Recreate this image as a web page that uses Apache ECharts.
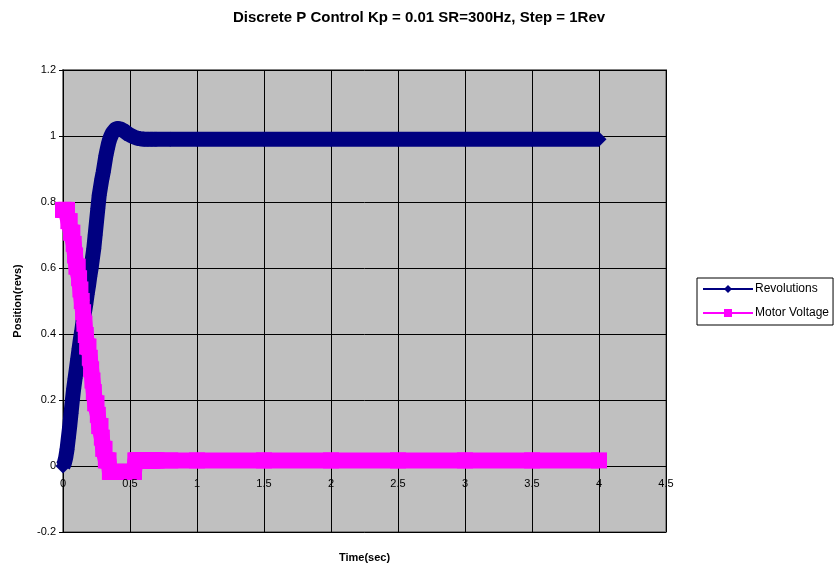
<!DOCTYPE html>
<html>
<head>
<meta charset="utf-8">
<script src="https://cdn.jsdelivr.net/npm/echarts@6/dist/echarts.min.js"></script>
<style>
html,body{margin:0;padding:0;background:#fff;}
#chart{width:835px;height:567px;}
</style>
</head>
<body>
<div id="chart"></div>
<script>
// time samples (s)
var timeSec = [0.00,0.01,0.02,0.03,0.04,0.05,0.06,0.07,0.08,0.09,
  0.10,0.11,0.12,0.13,0.14,0.15,0.16,0.17,0.18,0.19,
  0.20,0.21,0.22,0.23,0.24,0.25,0.26,0.27,0.28,0.29,
  0.30,0.31,0.32,0.33,0.34,0.35,0.36,0.37,0.38,0.39,
  0.40,0.41,0.42,0.43,0.44,0.45,0.46,0.47,0.48,0.49,
  0.50,0.51,0.52,0.53,0.54,0.55,0.56,0.57,0.58,0.59,
  0.60,0.61,0.62,0.63,0.64,0.65,0.66,0.67,0.68,0.69,
  0.70,0.80,1.00,1.50,2.00,2.50,3.00,3.50,4.00];
// Revolutions (revs)
var revolutions = [0.000,0.008,0.025,0.050,0.085,0.120,0.160,0.200,0.235,0.265,
  0.295,0.325,0.355,0.385,0.410,0.440,0.465,0.490,0.520,0.545,
  0.575,0.600,0.630,0.660,0.700,0.740,0.780,0.820,0.845,0.870,
  0.890,0.915,0.940,0.960,0.978,0.992,1.002,1.010,1.016,1.020,
  1.022,1.023,1.022,1.021,1.019,1.017,1.014,1.011,1.008,1.005,
  1.003,1.001,0.999,0.997,0.995,0.994,0.993,0.992,0.992,0.991,
  0.991,0.990,0.990,0.990,0.990,0.990,0.990,0.990,0.990,0.990,
  0.990,0.990,0.990,0.990,0.990,0.990,0.990,0.990,0.990];
// Motor Voltage
var motorVoltage = [0.776,0.776,0.776,0.776,0.742,0.742,0.707,0.707,0.673,0.638,
  0.604,0.604,0.569,0.535,0.500,0.466,0.431,0.397,0.362,0.362,
  0.328,0.293,0.259,0.224,0.190,0.190,0.155,0.121,0.121,0.086,
  0.052,0.052,0.017,0.017,0.017,-0.018,-0.018,-0.018,-0.018,-0.018,
  -0.018,-0.018,-0.018,-0.018,-0.018,-0.018,-0.018,-0.018,-0.018,-0.018,
  -0.018,-0.018,-0.018,-0.018,0.017,0.017,0.017,0.017,0.017,0.017,
  0.017,0.017,0.017,0.017,0.017,0.017,0.017,0.017,0.017,0.017,
  0.017,0.017,0.017,0.017,0.017,0.017,0.017,0.017,0.017];
var xTicks = [0,0.5,1,1.5,2,2.5,3,3.5,4,4.5];
var yTicks = [-0.2,0,0.2,0.4,0.6,0.8,1,1.2];

function pairs(vals){ return timeSec.map(function(t,i){ return [t, vals[i]]; }); }

var font = 'Liberation Sans, Arial, sans-serif';
var chart = echarts.init(document.getElementById('chart'), null, {renderer:'canvas'});
chart.setOption({
  animation:false,
  backgroundColor:'#ffffff',
  title:{
    text:'Discrete P Control Kp = 0.01 SR=300Hz, Step = 1Rev',
    left:414, top:5, textAlign:'center',
    textStyle:{fontFamily:font, fontSize:15, fontWeight:'bold', color:'#000'}
  },
  legend:{
    data:['Revolutions','Motor Voltage'],
    orient:'vertical',
    left:697, top:278,
    width:140,
    padding:[5,4,6,5],
    itemGap:12,
    itemWidth:50, itemHeight:10,
    borderColor:'#000', borderWidth:1, borderRadius:0,
    backgroundColor:'#fff',
    lineStyle:{width:2},
    textStyle:{fontFamily:font, fontSize:12, color:'#000', padding:[0,0,0,-3]}
  },
  grid:{left:63, right:169, top:70, bottom:35, show:true,
    outerBoundsMode:'none', containLabel:false,
    backgroundColor:'#c0c0c0', borderColor:'#808080', borderWidth:2},
  xAxis:[{
    type:'value', min:xTicks[0], max:xTicks[xTicks.length-1], interval:0.5,
    position:'bottom', offset:-66,
    name:'Time(sec)', nameLocation:'middle', nameGap:86,
    nameTextStyle:{fontFamily:font, fontSize:11, fontWeight:'bold', color:'#000'},
    axisLine:{onZero:false, lineStyle:{color:'#000', width:1}},
    axisTick:{show:true, length:4, lineStyle:{color:'#000'}},
    axisLabel:{show:false},
    splitLine:{show:true, lineStyle:{color:'#000', width:1}}
  },{
    type:'value', min:xTicks[0], max:xTicks[xTicks.length-1], interval:0.5,
    position:'bottom', offset:-66, z:10,
    axisLine:{show:false, onZero:false},
    axisTick:{show:false},
    splitLine:{show:false},
    axisLabel:{fontFamily:font, fontSize:11, color:'#000', margin:12,
      formatter:function(v){ return String(v); }}
  }],
  yAxis:{
    type:'value', min:yTicks[0], max:yTicks[yTicks.length-1], interval:0.2,
    name:'Position(revs)', nameLocation:'middle', nameGap:40, nameRotate:90,
    nameTextStyle:{fontFamily:font, fontSize:11, fontWeight:'bold', color:'#000'},
    axisLine:{show:true, onZero:false, lineStyle:{color:'#000', width:1}},
    axisTick:{show:true, length:4, lineStyle:{color:'#000'}},
    axisLabel:{fontFamily:font, fontSize:11, color:'#000', margin:7,
      formatter:function(v){ return String(Math.round(v*10)/10); }},
    splitLine:{show:true, lineStyle:{color:'#000', width:1}}
  },
  series:[
    {name:'Revolutions', type:'line', xAxisIndex:0, data:pairs(revolutions),
     symbol:'diamond', symbolSize:15, showAllSymbol:true,
     itemStyle:{color:'#000080'},
     lineStyle:{color:'#000080', width:15, join:'round'}},
    {name:'Motor Voltage', type:'line', xAxisIndex:0, data:pairs(motorVoltage),
     symbol:'rect', symbolSize:16, showAllSymbol:true,
     itemStyle:{color:'#ff00ff'},
     lineStyle:{color:'#ff00ff', width:16, join:'round'}}
  ]
});
</script>
</body>
</html>
